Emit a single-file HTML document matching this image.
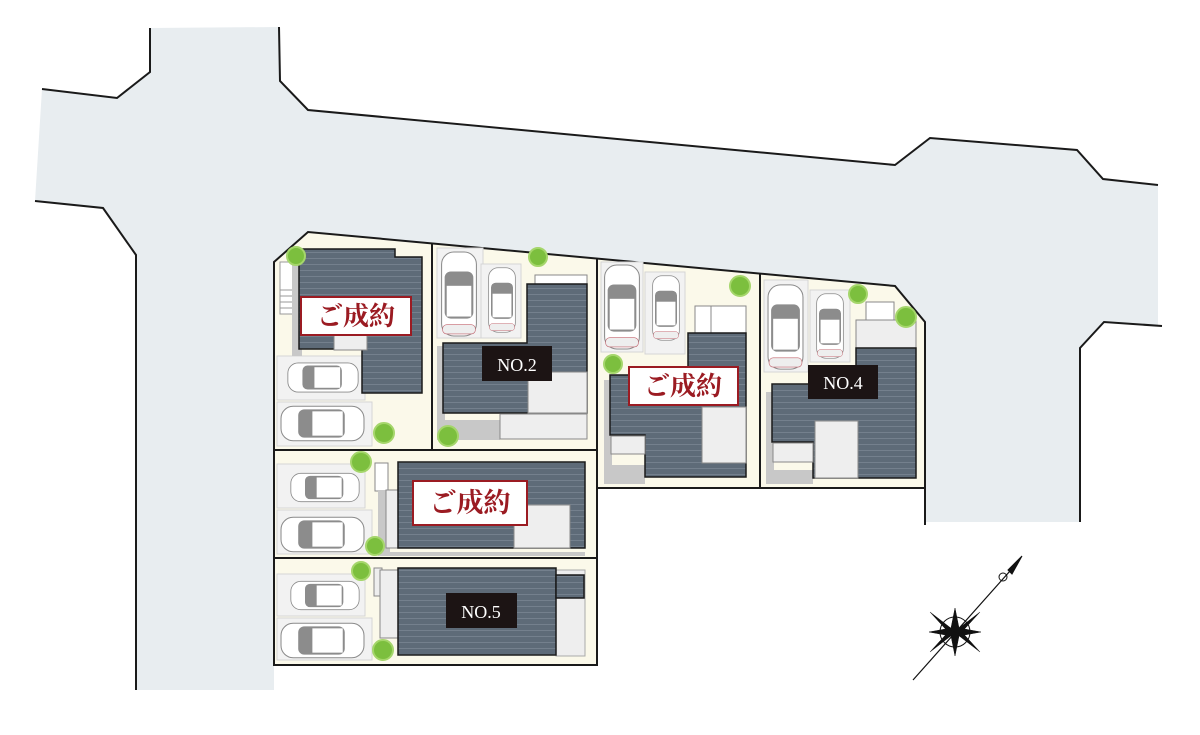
<!DOCTYPE html>
<html><head><meta charset="utf-8"><style>
html,body{margin:0;padding:0;background:#fff;width:1200px;height:735px;overflow:hidden}
svg{display:block}
.t{font-family:"Liberation Serif","Noto Serif CJK SC",serif}
</style></head><body>
<svg width="1200" height="735" viewBox="0 0 1200 735" xmlns="http://www.w3.org/2000/svg">
<defs>
<pattern id="roof" width="6" height="6" patternUnits="userSpaceOnUse">
<rect width="6" height="6" fill="#5e6b78"/><line x1="0" y1="0.5" x2="6" y2="0.5" stroke="#7a8692" stroke-width="0.8"/>
</pattern>
<symbol id="carV" viewBox="0 0 36 84">
<rect x="1" y="1" width="34" height="82" rx="12" fill="#fff" stroke="#8a8a8a" stroke-width="1"/>
<rect x="4" y="20" width="28" height="46" rx="6" fill="#8c8c8c"/>
<rect x="6" y="34" width="24" height="30" fill="#fff"/>
<rect x="2" y="72" width="32" height="9" rx="4" fill="#eee" stroke="#c0606a" stroke-width="0.6"/>
</symbol>
<symbol id="carH" viewBox="0 0 84 36">
<rect x="1" y="1" width="82" height="34" rx="12" fill="#fff" stroke="#8a8a8a"/>
<rect x="18" y="4" width="46" height="28" rx="6" fill="#8c8c8c"/>
<rect x="32" y="6" width="30" height="24" fill="#fff"/>
</symbol>
</defs>
<!-- road fill -->
<polygon fill="#e8edf0" points="42,89 117,98 150,72 150,28 279,27 280,81 308,110 895,165 930,138 1077,150 1103,179 1158,185 1158,326 1104,322 1080,348 1080,522 925,522 925,322 895,286 308,232 274,262 274,690 136,690 136,255 103,208 35,201"/>
<g fill="none" stroke="#1a1a1a" stroke-width="2">
<polyline points="42,89 117,98 150,72 150,28"/>
<polyline points="279,27 280,81 308,110 895,165 930,138 1077,150 1103,179 1158,185"/>
<polyline points="35,201 103,208 136,255 136,690"/>
<polyline points="1162,326 1104,322 1080,348 1080,522"/>
</g>
<!-- lots -->
<polygon fill="#fbf9ea" stroke="#1a1a1a" stroke-width="2" points="274,262 308,232 895,286 925,322 925,488 597,488 597,665 274,665"/>
<line x1="925" y1="488" x2="925" y2="525" stroke="#1a1a1a" stroke-width="2"/>
<g stroke="#1a1a1a" stroke-width="2">
<line x1="432" y1="243" x2="432" y2="450"/>
<line x1="597" y1="258" x2="597" y2="488"/>
<line x1="760" y1="273" x2="760" y2="488"/>
<line x1="274" y1="450" x2="597" y2="450"/>
<line x1="274" y1="558" x2="597" y2="558"/>
</g>
<!-- parking pads -->
<g fill="#f2f2f2" stroke="#d5d5d5">
<rect x="277" y="356" width="88" height="44"/><rect x="277" y="402" width="95" height="44"/>
<rect x="437" y="248" width="46" height="90"/><rect x="481" y="264" width="40" height="74"/>
<rect x="601" y="262" width="42" height="90"/><rect x="645" y="272" width="40" height="82"/>
<rect x="764" y="280" width="44" height="92"/><rect x="810" y="290" width="40" height="72"/>
<rect x="277" y="464" width="88" height="44"/><rect x="277" y="510" width="95" height="44"/>
<rect x="277" y="574" width="88" height="42"/><rect x="277" y="618" width="95" height="42"/>
</g>
<!-- lot1 -->
<rect x="280" y="262" width="20" height="52" fill="#fff" stroke="#999"/>
<g stroke="#999"><line x1="280" y1="290" x2="298" y2="290"/><line x1="280" y1="296" x2="298" y2="296"/><line x1="280" y1="302" x2="298" y2="302"/><line x1="280" y1="308" x2="298" y2="308"/></g>
<polygon fill="#c8c8c8" points="292,256 302,256 302,356 292,356"/>
<polygon fill="url(#roof)" stroke="#1a1a1a" stroke-width="1.5" points="299,249 395,249 395,257 422,257 422,393 362,393 362,349 299,349"/>
<rect x="334" y="333" width="33" height="17" fill="#eee" stroke="#888"/>
<!-- lot2 -->
<rect x="535" y="275" width="52" height="9" fill="#fff" stroke="#888"/>
<polygon fill="#c8c8c8" points="437,346 445,346 445,420 500,420 500,440 437,440"/>
<polygon fill="url(#roof)" stroke="#1a1a1a" stroke-width="1.5" points="443,343 527,343 527,284 587,284 587,413 443,413"/>
<rect x="528" y="372" width="59" height="41" fill="#eee" stroke="#888"/>
<rect x="500" y="414" width="87" height="25" fill="#eee" stroke="#888"/>
<!-- lot3 -->
<rect x="695" y="306" width="16" height="28" fill="#fff" stroke="#888"/>
<rect x="711" y="306" width="35" height="28" fill="#fff" stroke="#888"/>
<polygon fill="#c8c8c8" points="604,380 612,380 612,465 645,465 645,484 604,484"/>
<polygon fill="url(#roof)" stroke="#1a1a1a" stroke-width="1.5" points="610,375 688,375 688,333 746,333 746,477 645,477 645,435 610,435"/>
<rect x="611" y="436" width="34" height="18" fill="#eee" stroke="#888"/>
<rect x="702" y="407" width="44" height="56" fill="#eee" stroke="#888"/>
<!-- lot4 -->
<rect x="866" y="302" width="28" height="18" fill="#fff" stroke="#888"/>
<rect x="856" y="320" width="60" height="28" fill="#eee" stroke="#888"/>
<polygon fill="#c8c8c8" points="766,392 774,392 774,470 813,470 813,484 766,484"/>
<polygon fill="url(#roof)" stroke="#1a1a1a" stroke-width="1.5" points="772,384 856,384 856,348 916,348 916,478 813,478 813,442 772,442"/>
<rect x="773" y="443" width="40" height="19" fill="#eee" stroke="#888"/>
<rect x="815" y="421" width="43" height="57" fill="#eee" stroke="#888"/>
<!-- lot5 -->
<rect x="375" y="463" width="13" height="28" fill="#fff" stroke="#888"/>
<polygon fill="#c8c8c8" points="378,490 390,490 390,552 585,552 585,556 378,556"/>
<rect x="386" y="490" width="19" height="58" fill="#eee" stroke="#888"/>
<rect x="398" y="462" width="187" height="86" fill="url(#roof)" stroke="#1a1a1a" stroke-width="1.5"/>
<rect x="514" y="505" width="56" height="43" fill="#eee" stroke="#888"/>
<!-- lot6 -->
<rect x="374" y="568" width="8" height="28" fill="#eee" stroke="#888"/>
<rect x="380" y="570" width="18" height="68" fill="#eee" stroke="#888"/>
<rect x="556" y="570" width="29" height="86" fill="#eee" stroke="#aaa"/>
<rect x="398" y="568" width="158" height="87" fill="url(#roof)" stroke="#1a1a1a" stroke-width="1.5"/>
<rect x="556" y="575" width="28" height="23" fill="url(#roof)" stroke="#1a1a1a" stroke-width="1.5"/>
<!-- cars -->
<use href="#carH" x="287" y="361" width="72" height="33"/>
<use href="#carH" x="280" y="405" width="85" height="37"/>
<use href="#carV" x="440" y="251" width="38" height="86"/>
<use href="#carV" x="486" y="267" width="32" height="66"/>
<use href="#carV" x="603" y="264" width="38" height="86"/>
<use href="#carV" x="649" y="275" width="34" height="66"/>
<use href="#carV" x="767" y="283" width="37" height="88"/>
<use href="#carV" x="813" y="293" width="34" height="66"/>
<use href="#carH" x="290" y="471" width="70" height="33"/>
<use href="#carH" x="280" y="516" width="85" height="37"/>
<use href="#carH" x="290" y="580" width="70" height="31"/>
<use href="#carH" x="280" y="622" width="85" height="37"/>
<!-- trees -->
<g fill="#7cbf3e" stroke="#a5d66b" stroke-width="2">
<circle cx="296" cy="256" r="9"/><circle cx="538" cy="257" r="9"/><circle cx="384" cy="433" r="10"/>
<circle cx="448" cy="436" r="10"/><circle cx="361" cy="462" r="10"/><circle cx="375" cy="546" r="9"/>
<circle cx="361" cy="571" r="9"/><circle cx="383" cy="650" r="10"/><circle cx="740" cy="286" r="10"/>
<circle cx="613" cy="364" r="9"/><circle cx="858" cy="294" r="9"/><circle cx="906" cy="317" r="10"/>
</g>
<!-- labels -->
<g class="t">
<rect x="301" y="297" width="110" height="38" fill="#fff" stroke="#9b1b22" stroke-width="2"/>
<text x="356" y="325" font-size="26" fill="#9b1b22" text-anchor="middle" font-weight="bold">ご成約</text>
<rect x="482" y="346" width="70" height="35" fill="#1c1414"/>
<text x="517" y="371" font-size="18" fill="#fff" text-anchor="middle">NO.2</text>
<rect x="629" y="367" width="109" height="38" fill="#fff" stroke="#9b1b22" stroke-width="2"/>
<text x="683" y="395" font-size="26" fill="#9b1b22" text-anchor="middle" font-weight="bold">ご成約</text>
<rect x="808" y="365" width="70" height="34" fill="#1c1414"/>
<text x="843" y="389" font-size="18" fill="#fff" text-anchor="middle">NO.4</text>
<rect x="413" y="481" width="114" height="44" fill="#fff" stroke="#9b1b22" stroke-width="2"/>
<text x="470" y="512" font-size="27" fill="#9b1b22" text-anchor="middle" font-weight="bold">ご成約</text>
<rect x="446" y="593" width="71" height="35" fill="#1c1414"/>
<text x="481" y="618" font-size="18" fill="#fff" text-anchor="middle">NO.5</text>
</g>
<!-- compass -->
<g stroke="#111" fill="#111">
<line x1="913" y1="680" x2="1018" y2="562" stroke-width="1.2"/>
<polygon points="1022,556 1012,574 1008,570" />
<circle cx="1003" cy="577" r="4" fill="none"/>
<circle cx="955" cy="632" r="15" fill="none" stroke-width="1"/>
<polygon points="955,608 959,628 955,632 951,628" stroke-width="0.5"/>
<polygon points="955,656 959,636 955,632 951,636" stroke-width="0.5"/>
<polygon points="929,632 951,628 955,632 951,636" stroke-width="0.5"/>
<polygon points="981,632 959,628 955,632 959,636" stroke-width="0.5"/>
<polygon points="930,612 952,629 955,632 950,634" stroke-width="0.5"/>
<polygon points="980,652 958,635 955,632 960,630" stroke-width="0.5"/>
<polygon points="980,612 958,629 955,632 960,634" stroke-width="0.5"/>
<polygon points="930,652 952,635 955,632 950,630" stroke-width="0.5"/>
</g>
</svg>
</body></html>
